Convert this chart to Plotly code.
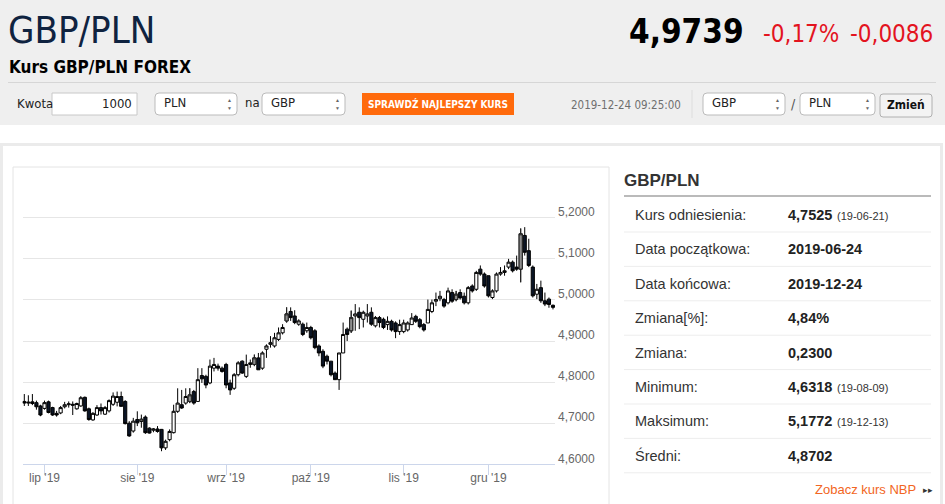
"""GBP/PLN - kurs FOREX: świece dzienne + tabela statystyk (odtworzenie strony)"""

import pandas as pd
import plotly.graph_objects as go

W, H = 945, 504

# --- dane ---
DATES = [d.strftime("%Y-%m-%d") for d in pd.bdate_range("2019-06-24", "2019-12-24")]

OPEN = [4.753, 4.749, 4.752, 4.750, 4.742, 4.736, 4.752, 4.738, 4.724, 4.725,
        4.740, 4.745, 4.746, 4.735, 4.742, 4.763, 4.735, 4.708, 4.720, 4.738,
        4.722, 4.730, 4.746, 4.751, 4.765, 4.753, 4.700, 4.681, 4.709, 4.704,
        4.715, 4.688, 4.683, 4.686, 4.685, 4.640, 4.660, 4.677, 4.729, 4.745,
        4.749, 4.753, 4.777, 4.753, 4.816, 4.814, 4.798, 4.834, 4.839, 4.834,
        4.843, 4.798, 4.785, 4.818, 4.851, 4.814, 4.843, 4.843, 4.859, 4.834,
        4.880, 4.892, 4.888, 4.904, 4.920, 4.949, 4.972, 4.961, 4.941, 4.941,
        4.925, 4.933, 4.925, 4.888, 4.875, 4.863, 4.851, 4.822, 4.806, 4.871,
        4.929, 4.925, 4.961, 4.970, 4.953, 4.961, 4.970, 4.937, 4.957, 4.953,
        4.940, 4.948, 4.944, 4.923, 4.923, 4.927, 4.940, 4.960, 4.952, 4.940,
        4.944, 4.972, 4.997, 5.003, 5.001, 4.993, 5.018, 5.001, 5.018, 5.009,
        4.993, 5.034, 5.026, 5.075, 5.063, 5.059, 5.006, 5.022, 5.063, 5.067,
        5.080, 5.092, 5.080, 5.075, 5.157, 5.120, 5.080, 5.014, 5.030, 4.998,
        5.002, 4.987]
HIGH = [4.771, 4.768, 4.771, 4.755, 4.745, 4.755, 4.755, 4.740, 4.730, 4.742,
        4.752, 4.753, 4.753, 4.750, 4.766, 4.765, 4.738, 4.727, 4.744, 4.748,
        4.742, 4.758, 4.775, 4.777, 4.777, 4.756, 4.705, 4.713, 4.729, 4.721,
        4.719, 4.690, 4.688, 4.693, 4.686, 4.660, 4.685, 4.745, 4.785, 4.781,
        4.785, 4.785, 4.781, 4.834, 4.834, 4.818, 4.855, 4.859, 4.845, 4.838,
        4.847, 4.806, 4.822, 4.851, 4.853, 4.867, 4.855, 4.867, 4.871, 4.875,
        4.892, 4.912, 4.920, 4.933, 4.941, 4.982, 4.982, 4.975, 4.953, 4.945,
        4.945, 4.937, 4.929, 4.892, 4.880, 4.867, 4.851, 4.826, 4.871, 4.945,
        4.933, 4.974, 4.990, 4.982, 4.974, 4.990, 4.982, 4.961, 4.961, 4.957,
        4.960, 4.952, 4.948, 4.952, 4.952, 4.948, 4.968, 4.964, 4.956, 4.944,
        5.001, 5.001, 5.018, 5.022, 5.005, 5.030, 5.026, 5.022, 5.026, 5.018,
        5.034, 5.038, 5.071, 5.084, 5.067, 5.059, 5.026, 5.067, 5.080, 5.084,
        5.100, 5.096, 5.108, 5.174, 5.1772, 5.149, 5.084, 5.039, 5.047, 5.018,
        5.006, 4.989]
LOW = [4.742, 4.742, 4.744, 4.733, 4.717, 4.733, 4.724, 4.718, 4.716, 4.722,
       4.736, 4.738, 4.720, 4.733, 4.740, 4.728, 4.706, 4.706, 4.718, 4.721,
       4.720, 4.726, 4.742, 4.741, 4.741, 4.697, 4.667, 4.677, 4.693, 4.689,
       4.674, 4.675, 4.678, 4.677, 4.6318, 4.635, 4.656, 4.675, 4.725, 4.735,
       4.745, 4.749, 4.745, 4.753, 4.798, 4.785, 4.795, 4.826, 4.828, 4.823,
       4.785, 4.769, 4.781, 4.814, 4.820, 4.810, 4.835, 4.839, 4.830, 4.830,
       4.859, 4.884, 4.884, 4.900, 4.916, 4.945, 4.949, 4.941, 4.937, 4.912,
       4.920, 4.904, 4.880, 4.863, 4.834, 4.843, 4.814, 4.806, 4.781, 4.871,
       4.900, 4.920, 4.925, 4.929, 4.933, 4.945, 4.937, 4.933, 4.933, 4.929,
       4.927, 4.923, 4.907, 4.915, 4.919, 4.923, 4.940, 4.944, 4.931, 4.923,
       4.944, 4.968, 4.985, 4.997, 4.981, 4.989, 4.993, 4.997, 5.001, 4.989,
       4.989, 5.018, 5.022, 5.059, 5.030, 5.006, 5.002, 5.018, 5.059, 5.059,
       5.075, 5.067, 5.071, 5.043, 5.108, 5.080, 5.006, 5.002, 4.993, 4.985,
       4.981, 4.977]
CLOSE = [4.749, 4.751, 4.748, 4.740, 4.720, 4.750, 4.726, 4.720, 4.720, 4.738,
         4.745, 4.747, 4.744, 4.748, 4.762, 4.730, 4.709, 4.724, 4.738, 4.730,
         4.738, 4.755, 4.766, 4.765, 4.741, 4.699, 4.669, 4.705, 4.701, 4.710,
         4.677, 4.676, 4.686, 4.680, 4.640, 4.656, 4.680, 4.729, 4.749, 4.737,
         4.765, 4.769, 4.749, 4.806, 4.808, 4.793, 4.839, 4.843, 4.834, 4.826,
         4.793, 4.781, 4.818, 4.847, 4.822, 4.843, 4.847, 4.859, 4.830, 4.871,
         4.888, 4.896, 4.908, 4.920, 4.933, 4.966, 4.957, 4.945, 4.949, 4.916,
         4.933, 4.908, 4.884, 4.871, 4.839, 4.851, 4.818, 4.806, 4.871, 4.916,
         4.916, 4.957, 4.966, 4.957, 4.970, 4.966, 4.941, 4.957, 4.945, 4.933,
         4.948, 4.927, 4.923, 4.940, 4.944, 4.944, 4.956, 4.948, 4.935, 4.927,
         4.977, 4.993, 5.001, 5.009, 4.985, 5.022, 4.997, 5.014, 5.005, 4.993,
         5.030, 5.022, 5.067, 5.063, 5.034, 5.010, 5.022, 5.063, 5.067, 5.071,
         5.092, 5.071, 5.075, 5.161, 5.116, 5.084, 5.010, 5.026, 4.998, 4.990,
         4.989, 4.982]
GRAY_IDX = [41, 57, 65, 81, 107, 123]   # świece z szarym wypełnieniem

MONTH_TICKS = ["2019-07-01", "2019-08-01", "2019-09-02", "2019-10-01", "2019-11-01", "2019-12-02"]
MONTH_LABELS = ["lip '19", "sie '19", "wrz '19", "paź '19", "lis '19", "gru '19"]
Y_TICKS = [4.6, 4.7, 4.8, 4.9, 5.0, 5.1, 5.2, 5.3]
Y_LABELS = ["4,6000", "4,7000", "4,8000", "4,9000", "5,0000", "5,1000", "5,2000", ""]

STAT_LABELS = ["Kurs odniesienia:", "Data początkowa:", "Data końcowa:", "Zmiana[%]:",
               "Zmiana:", "Minimum:", "Maksimum:", "Średni:"]
STAT_VALUES = ["4,7525", "2019-06-24", "2019-12-24", "4,84%", "0,2300", "4,6318", "5,1772", "4,8702"]
STAT_DATES = ["(19-06-21)", "", "", "", "", "(19-08-09)", "(19-12-13)", ""]

assert len(DATES) == len(OPEN) == len(HIGH) == len(LOW) == len(CLOSE)

NARROW = "Liberation Sans Narrow, Arial Narrow, DejaVu Sans Condensed, sans-serif"
ARIAL = "Liberation Sans, Arial, sans-serif"


def px(x):
    return x / W


def py(y):
    return 1 - y / H


def rect(x0, y0, x1, y1, fill=None, line=None, lw=1):
    return dict(type="rect", xref="paper", yref="paper", x0=px(x0), x1=px(x1), y0=py(y1), y1=py(y0),
                fillcolor=fill or "rgba(0,0,0,0)", line=dict(color=line or "rgba(0,0,0,0)", width=lw if line else 0),
                layer="below")


def rrect(x0, y0, x1, y1, r=4, fill="white", line="#bbbbbb"):
    pts = [("M", x0 + r, y0), ("L", x1 - r, y0), ("Q", x1, y0, x1, y0 + r), ("L", x1, y1 - r),
           ("Q", x1, y1, x1 - r, y1), ("L", x0 + r, y1), ("Q", x0, y1, x0, y1 - r), ("L", x0, y0 + r),
           ("Q", x0, y0, x0 + r, y0)]
    d = ""
    for p in pts:
        cmd, coords = p[0], p[1:]
        xy = [f"{px(coords[i])},{py(coords[i + 1])}" for i in range(0, len(coords), 2)]
        d += cmd + " ".join(xy) + " "
    return dict(type="path", xref="paper", yref="paper", path=d + "Z", fillcolor=fill,
                line=dict(color=line, width=1), layer="below")


def hline(x0, x1, y, color, lw=1):
    return dict(type="line", xref="paper", yref="paper", x0=px(x0), x1=px(x1), y0=py(y), y1=py(y),
                line=dict(color=color, width=lw), layer="below")


def text(x, y, s, size=13, color="#333", family=ARIAL, anchor="left"):
    return dict(x=px(x), y=py(y), xref="paper", yref="paper", text=s, showarrow=False,
                xanchor=anchor, yanchor="middle", font=dict(size=size, color=color, family=family))


fig = go.Figure()
fig.add_trace(go.Candlestick(
    x=DATES, open=OPEN, high=HIGH, low=LOW, close=CLOSE,
    increasing=dict(fillcolor="white", line=dict(color="#000000", width=1)),
    decreasing=dict(fillcolor="#0b1526", line=dict(color="#000000", width=1)),
    whiskerwidth=0, showlegend=False, hoverinfo="x+y"))
fig.add_trace(go.Candlestick(
    x=[DATES[i] for i in GRAY_IDX], open=[OPEN[i] for i in GRAY_IDX], high=[HIGH[i] for i in GRAY_IDX],
    low=[LOW[i] for i in GRAY_IDX], close=[CLOSE[i] for i in GRAY_IDX],
    increasing=dict(fillcolor="#8e8e8e", line=dict(color="#222222", width=1)),
    decreasing=dict(fillcolor="#8e8e8e", line=dict(color="#222222", width=1)),
    whiskerwidth=0, showlegend=False, hoverinfo="x+y"))

shapes = [
    rect(0, 0, W, 125, fill="#efefef"),
    hline(8, 936, 82.5, "#d6d6d6"),
    rect(1.5, 144.5, 941.5, 560, line="#ebebeb", lw=3),
    rect(13, 167, 609, 560, line="#e4e4e4", lw=1),
    # kontrolki w nagłówku
    rect(52, 93, 137, 115, fill="white", line="#c8c8c8"),
    rrect(155, 93, 237, 115),
    rrect(262, 93, 345, 115),
    rect(362, 93, 514, 115, fill="#ff6a0c"),
    dict(type="line", xref="paper", yref="paper", x0=px(692), x1=px(692), y0=py(118), y1=py(90),
         line=dict(color="#dddddd", width=1), layer="below"),
    rrect(703, 93, 785, 115),
    rrect(800, 93, 875, 115),
    rrect(880, 94, 932, 117, r=3, fill="#f3f3f3", line="#b0b0b0"),
    # tabela
    hline(624, 931, 196, "#a3a3a3", 1.5),
]
for i in range(len(STAT_LABELS)):
    shapes.append(hline(624, 931, 232 + 34.4 * i, "#ededed"))

ann = [
    text(6, 30, "GBP/PLN", 38, "#0f2340", NARROW),
    text(746, 31, "<b>4,9739</b>", 33, "#000000", NARROW, "right"),
    text(761, 34, "-0,17%", 24, "#e3141f", NARROW),
    text(935, 34, "-0,0086", 24, "#e3141f", NARROW, "right"),
    text(7, 67, "<b>Kurs GBP/PLN FOREX</b>", 17, "#000000", NARROW),
    text(15, 104, "Kwota", 13, "#222", NARROW),
    text(134, 104, "1000", 13, "#222", NARROW, "right"),
    text(162, 103, "PLN", 13, "#222", NARROW),
    text(243, 103, "na", 13, "#222", NARROW),
    text(269, 103, "GBP", 13, "#222", NARROW),
    text(438, 104, "<b>SPRAWDŹ NAJLEPSZY KURS</b>", 10, "white", NARROW, "center"),
    text(683, 105, "2019-12-24 09:25:00", 11.5, "#6f6f6f", NARROW, "right"),
    text(710, 103, "GBP", 13, "#222", NARROW),
    text(793, 104, "/", 14, "#555", NARROW, "center"),
    text(807, 103, "PLN", 13, "#222", NARROW),
    text(906, 105, "<b>Zmień</b>", 12, "#111", NARROW, "center"),
    text(622, 180, "<b>GBP/PLN</b>", 17, "#333333"),
    text(918, 489, "Zobacz kurs NBP", 13, "#f26522", anchor="right"),
    text(921, 490, "▸▸", 9, "#333333"),
]
for xa in (229, 337, 777, 867):
    ann.append(text(xa, 100, "▲", 5, "#666", anchor="center"))
    ann.append(text(xa, 108, "▼", 5, "#666", anchor="center"))
for i, (lab, val, dt) in enumerate(zip(STAT_LABELS, STAT_VALUES, STAT_DATES)):
    yc = 215 + 34.4 * i
    ann.append(text(633, yc, lab, 14.5, "#333333"))
    ann.append(text(786, yc, f"<b>{val}</b>", 14.5, "#222222"))
    if dt:
        ann.append(text(835, yc + 1, dt, 11, "#333333"))

fig.update_layout(
    width=W, height=H, margin=dict(l=0, r=0, t=0, b=0, autoexpand=False),
    paper_bgcolor="white", plot_bgcolor="white",
    separators=", ", boxgap=0.22, boxgroupgap=0,
    shapes=shapes, annotations=ann, showlegend=False,
    xaxis=dict(
        type="category", categoryorder="array", categoryarray=DATES,
        domain=[px(22.7), px(555)], range=[-0.4, len(DATES) - 0.5],
        rangeslider=dict(visible=False), automargin=False,
        tickvals=MONTH_TICKS, ticktext=MONTH_LABELS,
        ticks="outside", ticklen=10, tickcolor="#ccd6eb", tickwidth=1, ticklabelstandoff=-8,
        showline=True, linecolor="#ccd6eb", linewidth=1, showgrid=False,
        tickfont=dict(size=12, color="#666666", family=ARIAL), fixedrange=True),
    yaxis=dict(
        domain=[py(464.3), py(176.7)], range=[4.6, 5.3], side="right", automargin=False,
        tickvals=Y_TICKS, ticktext=Y_LABELS, ticks="",
        showgrid=True, gridcolor="#e6e6e6", gridwidth=1, zeroline=False, showline=False,
        ticklabelshift=-6, ticklabelstandoff=2,
        tickfont=dict(size=12, color="#666666", family=ARIAL), fixedrange=True),
)

# strona bez domyślnego marginesu body, żeby wykres 945x504 wypełniał okno
fig.write_html("out.html", config={"displayModeBar": False},
               post_script="document.body.style.margin='0';document.body.style.overflow='hidden';")
